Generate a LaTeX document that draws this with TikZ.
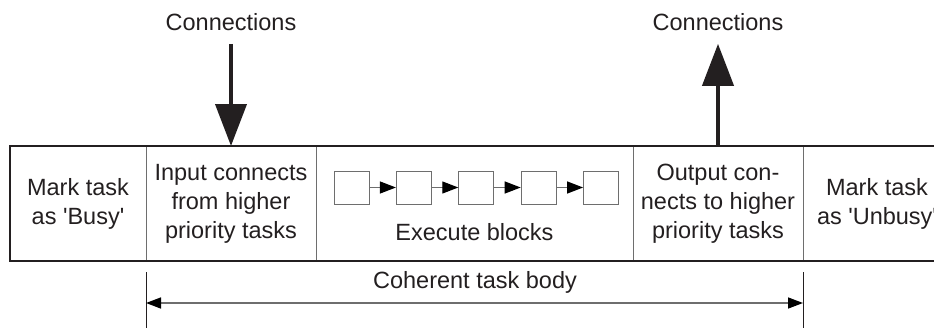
\documentclass[tikz,border=0pt]{standalone}
\usepackage{fontspec}
\setmainfont{Liberation Sans}
\usetikzlibrary{positioning, arrows.meta}
\definecolor{inkgrey}{HTML}{231F20}
\definecolor{rulegrey}{HTML}{6E6E6E}

\begin{document}
\begin{tikzpicture}[x=1pt, y=-1pt,
    font=\fontsize{23.5}{29}\selectfont, text=inkgrey,
    cell/.style={draw=rulegrey, line width=1pt, minimum height=115pt,
                 inner sep=0pt, outer sep=0pt, align=center},
    blk/.style={draw=rulegrey, line width=1pt, minimum width=35pt, minimum height=33pt, inner sep=0pt},
    flow/.style={rulegrey, line width=1.2pt, -{Triangle[length=16pt, width=12pt, color=black]}},
    bigarrow/.style={inkgrey, line width=4pt, -{Triangle[length=42pt, width=31pt]}},
    spanarrow/.style={rulegrey, line width=1.5pt,
                      {Triangle[length=15pt, width=11pt, color=black]}-{Triangle[length=15pt, width=11pt, color=black]}},
    frame/.style={inkgrey, line width=2pt}]
  \useasboundingbox (0,0) rectangle (934,329);

  % task row
  \node[cell, minimum width=136pt, anchor=north west] (busy) at (10,146) {Mark task\\as \textquotesingle Busy\textquotesingle};
  \node[cell, minimum width=170pt, right=0pt of busy] (input) {Input connects\\from higher\\priority tasks};
  \node[cell, minimum width=317pt, right=0pt of input] (exec) {};
  \node[cell, minimum width=170pt, right=0pt of exec] (output) {Output con-\\nects to higher\\priority tasks};
  \node[cell, minimum width=148pt, right=0pt of output] (unbusy) {Mark task\\as \textquotesingle Unbusy\textquotesingle};
  \draw[frame] (unbusy.north east) -| (busy.south west) -- (unbusy.south east);

  % blocks
  \foreach \i in {1,...,5}
    \node[blk] (b\i) at (351.5+62.4*\i-62.4, 187.5) {};
  \foreach \i [count=\j from 2] in {1,...,4}
    \draw[flow] (b\i) -- (b\j);
  \node[inner sep=0pt, above=20pt of exec.south] (execlbl) {Execute blocks};

  % connections
  \node[inner ysep=13pt] (conin) at (231,22) {Connections};
  \node[inner ysep=13pt] (conout) at (718,22) {Connections};
  \draw[bigarrow] (conin) -- (input.north);
  \draw[bigarrow] (output.north) -- (conout);

  % body span
  \coordinate (bodyL) at ([yshift=-42pt]input.south west);
  \coordinate (bodyR) at ([yshift=-42pt]output.south east);
  \draw[inkgrey, line width=1pt] ([yshift=-11pt]input.south west) -- ([yshift=-67pt]input.south west);
  \draw[inkgrey, line width=1pt] ([yshift=-11pt]output.south east) -- ([yshift=-67pt]output.south east);
  \draw[spanarrow] (bodyL) -- (bodyR);
  \node (bodylbl) at (475,282) {Coherent task body};
\end{tikzpicture}
\end{document}
